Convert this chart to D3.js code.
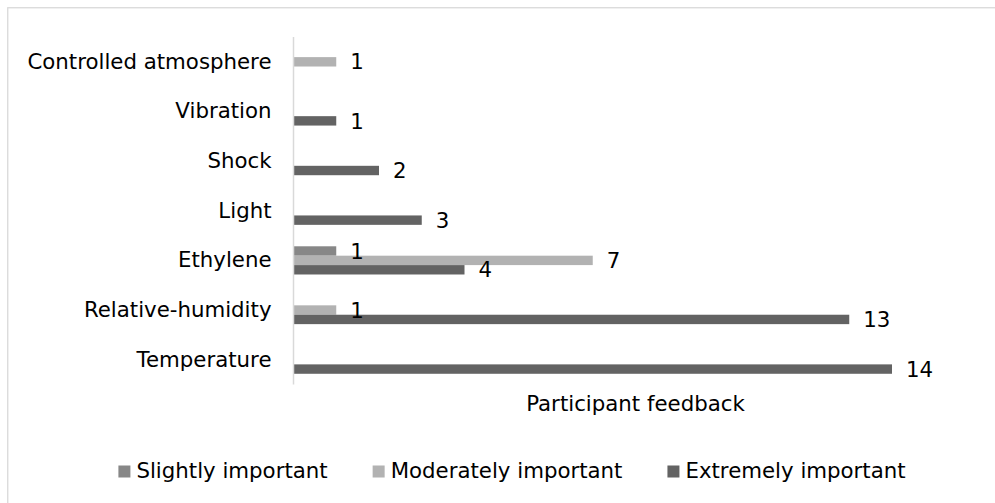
<!DOCTYPE html>
<html>
<head>
<meta charset="utf-8">
<script src="https://cdn.jsdelivr.net/npm/d3@7"></script>
<style>
  html, body { margin: 0; padding: 0; background: #fff; }
  svg { display: block; }
  text { font-family: "DejaVu Sans", sans-serif; fill: #000; }
</style>
</head>
<body>
<svg id="chart" width="995" height="503"></svg>
<script>
// Factors, listed top to bottom
const categories = ["Controlled atmosphere", "Vibration", "Shock", "Light", "Ethylene", "Relative-humidity", "Temperature"];
const seriesNames = ["Slightly important", "Moderately important", "Extremely important"];
const seriesColors = ["#878787", "#b2b2b2", "#636363"];

// Number of participants per factor (null = no response in that series)
const slightlyImportant   = [null, null, null, null, 1, null, null];
const moderatelyImportant = [1, null, null, null, 7, 1, null];
const extremelyImportant  = [null, 1, 2, 3, 4, 13, 14];

const axisTitle = "Participant feedback";
const xDomain = [0, 16];

const seriesValues = [slightlyImportant, moderatelyImportant, extremelyImportant];

const svg = d3.select("#chart");
const fontSize = 21.3;

// Chart frame
svg.append("rect")
  .attr("x", 7.75).attr("y", 7.75)
  .attr("width", 1010).attr("height", 620)
  .attr("fill", "none")
  .attr("stroke", "#d9d9d9")
  .attr("stroke-width", 1.3);

const x = d3.scaleLinear().domain(xDomain).range([293.5, 977.5]);
const y = d3.scaleBand().domain(categories).range([37, 384.5])
  .paddingInner(0.432).paddingOuter(0.216);
const ySub = d3.scaleBand().domain(d3.range(seriesNames.length)).range([0, y.bandwidth()]);

// Flattened records for bars and labels
const records = [];
categories.forEach((c, i) => {
  seriesValues.forEach((vals, s) => {
    if (vals[i] != null) records.push({ cat: c, s, v: vals[i] });
  });
});

// Bars
svg.append("g").selectAll("rect")
  .data(records)
  .join("rect")
  .attr("x", x(0))
  .attr("y", d => y(d.cat) + ySub(d.s))
  .attr("width", d => x(d.v) - x(0))
  .attr("height", ySub.bandwidth())
  .attr("fill", d => seriesColors[d.s]);

// Category axis
const yAxis = svg.append("g")
  .attr("transform", `translate(${x(0)},0)`)
  .call(d3.axisLeft(y).tickSize(0).tickPadding(22));
yAxis.select(".domain").attr("stroke", "#d9d9d9").attr("stroke-width", 1.5)
  .attr("d", `M0,${y.range()[0]}V${y.range()[1]}`);
yAxis.selectAll("text")
  .attr("font-size", fontSize)
  .attr("font-family", "DejaVu Sans, sans-serif")
  .attr("fill", "#000");

// Value labels
svg.append("g").selectAll("text")
  .data(records)
  .join("text")
  .attr("x", d => x(d.v) + 14)
  .attr("y", d => y(d.cat) + ySub(d.s) + ySub.bandwidth() / 2)
  .attr("dy", "0.36em")
  .attr("font-size", fontSize)
  .text(d => d.v);

// Axis title
svg.append("text")
  .attr("x", (x.range()[0] + x.range()[1]) / 2)
  .attr("y", 410.5)
  .attr("text-anchor", "middle")
  .attr("font-size", fontSize)
  .text(axisTitle);

// Legend
const legend = svg.append("g");
const sw = 12, gapText = 6, gapItem = 45;
let cursor = 0;
seriesNames.forEach((name, s) => {
  const g = legend.append("g").attr("transform", `translate(${cursor},0)`);
  g.append("rect").attr("x", 0).attr("y", 465.5).attr("width", sw).attr("height", sw)
    .attr("fill", seriesColors[s]);
  const t = g.append("text").attr("x", sw + gapText).attr("y", 477.7)
    .attr("font-size", fontSize).text(name);
  cursor += sw + gapText + t.node().getComputedTextLength() + gapItem;
});
const legendWidth = cursor - gapItem;
legend.attr("transform", `translate(${512 - legendWidth / 2},0)`);
</script>
</body>
</html>
